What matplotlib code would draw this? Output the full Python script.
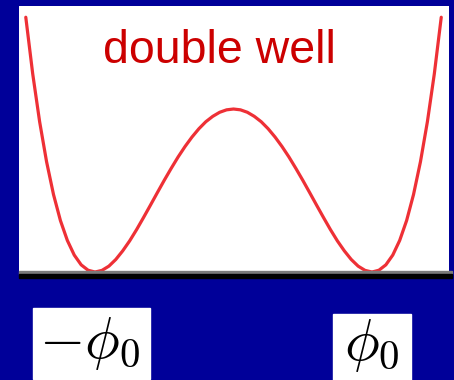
import matplotlib.pyplot as plt
from matplotlib.patches import Rectangle

# potential curve (phi in units of phi0, V in units of the barrier)
phi = [-1.50, -1.45, -1.40, -1.35, -1.30, -1.25, -1.20, -1.15, -1.10, -1.05,
       -1.00, -0.95, -0.90, -0.85, -0.80, -0.75, -0.70, -0.65, -0.60, -0.55,
       -0.50, -0.45, -0.40, -0.35, -0.30, -0.25, -0.20, -0.15, -0.10, -0.05,
       0.00, 0.05, 0.10, 0.15, 0.20, 0.25, 0.30, 0.35, 0.40, 0.45,
       0.50, 0.55, 0.60, 0.65, 0.70, 0.75, 0.80, 0.85, 0.90, 0.95,
       1.00, 1.05, 1.10, 1.15, 1.20, 1.25, 1.30, 1.35, 1.40, 1.45, 1.50]
V = [1.563, 1.216, 0.922, 0.677, 0.476, 0.316, 0.194, 0.104, 0.044, 0.011,
     0.000, 0.010, 0.036, 0.077, 0.130, 0.191, 0.260, 0.334, 0.410, 0.487,
     0.563, 0.636, 0.706, 0.770, 0.828, 0.879, 0.922, 0.955, 0.980, 0.995,
     1.000, 0.995, 0.980, 0.955, 0.922, 0.879, 0.828, 0.770, 0.706, 0.636,
     0.563, 0.487, 0.410, 0.334, 0.260, 0.191, 0.130, 0.077, 0.036, 0.010,
     0.000, 0.011, 0.044, 0.104, 0.194, 0.316, 0.476, 0.677, 0.922, 1.216, 1.563]

title = "double well"
labels = [r"$-\phi_0$", r"$\phi_0$"]

W, H = 454, 380
BLUE = "#000099"


def fx(x):
    return x / W


def fy(y):
    return 1 - y / H


fig = plt.figure(figsize=(W / 100, H / 100), dpi=100, facecolor=BLUE)
plt.rcParams["mathtext.fontset"] = "cm"

# white panel holding the curve
ax = fig.add_axes([fx(19), fy(273), fx(449) - fx(19), fy(6) - fy(273)])
ax.set_facecolor("white")
ax.plot(phi, V, color="#ee3036", lw=2.3, solid_capstyle="round")
ax.set_xlim(-1.549, 1.556)
ax.set_ylim(-0.006, 1.632)
ax.axis("off")
ax.add_patch(Rectangle((0, 0), 1, 1, transform=ax.transAxes, color="white", zorder=0))

ax.text(fx(103), fy(63), title, transform=fig.transFigure, color="#cc0000",
        fontsize=33.5, family="Liberation Sans", ha="left", va="baseline")

# baseline under the wells
fig.add_artist(Rectangle((fx(19), fy(274)), fx(452) - fx(19), fy(271.5) - fy(274),
                         transform=fig.transFigure, color="#7a7a7a", zorder=5))
fig.add_artist(Rectangle((fx(19), fy(277.5)), fx(452) - fx(19), fy(274) - fy(277.5),
                         transform=fig.transFigure, color="black", zorder=5))

# label boxes
boxes = [(33, 308, 150, 379), (333, 314, 411, 380)]
centers = [(89, 343), (371.5, 345)]
for (x0, y0, x1, y1), (cx, cy), lab in zip(boxes, centers, labels):
    fig.add_artist(Rectangle((fx(x0), fy(y1)), fx(x1) - fx(x0), fy(y0) - fy(y1),
                             transform=fig.transFigure, color="white"))
    fig.text(fx(cx), fy(cy), lab, fontsize=42, color="black", ha="center", va="center")

fig.savefig("out.png", dpi=100, facecolor=BLUE)
